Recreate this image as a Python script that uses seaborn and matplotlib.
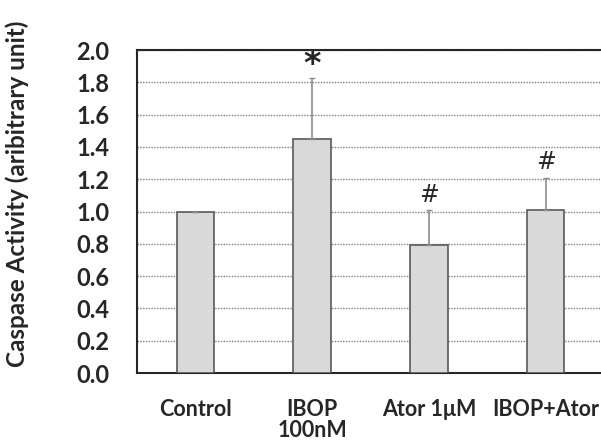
import matplotlib
matplotlib.use("Agg")
import matplotlib.pyplot as plt
import seaborn as sns
import numpy as np

groups = ["Control", "IBOP\n100nM", "Ator 1\u03bcM", "IBOP+Ator"]
activity = [1.00, 1.45, 0.79, 1.01]
sem = [0.00, 0.38, 0.22, 0.20]
marks = ["", "*", "#", "#"]

sns.set_style("white")
plt.rcParams["font.family"] = ["Lato", "DejaVu Sans"]

fig = plt.figure(figsize=(6.01, 4.43), dpi=100)
ax = fig.add_axes([0.228, 0.158, 0.777, 0.729])

sns.barplot(x=groups, y=activity, color="#d9d9d9", edgecolor="#595959",
            linewidth=1.2, width=0.32, ax=ax, zorder=3)
ax.errorbar(np.arange(len(groups)), activity, yerr=[np.zeros(len(sem)), sem],
            fmt="none", ecolor="#8c8c8c", elinewidth=1.2, capsize=2.5, zorder=4)

for i, (v, e, m) in enumerate(zip(activity, sem, marks)):
    if m == "*":
        ax.text(i, v + e - 0.02, m, ha="center", va="bottom", fontsize=24,
                fontweight="bold", family="DejaVu Sans")
    elif m:
        ax.text(i, v + e + 0.02, m, ha="center", va="bottom", fontsize=17,
                family="DejaVu Sans")

ax.set_ylim(0, 2.0)
ax.set_xlim(-0.5, 3.5)
ax.set_yticks(np.arange(0, 2.01, 0.2))
ax.set_yticklabels([f"{t:.1f}" for t in np.arange(0, 2.01, 0.2)])
ax.yaxis.grid(True, linestyle=(0, (1, 1)), color="#7f7f7f", linewidth=1.0, zorder=0)
ax.set_axisbelow(True)

for s in ["left", "bottom", "top"]:
    ax.spines[s].set_color("#262626")
    ax.spines[s].set_linewidth(1.5)
ax.spines["right"].set_visible(False)

ax.tick_params(axis="x", length=0, labelsize=15.5, pad=19)
ax.tick_params(axis="y", length=0, labelsize=17, pad=20)
for lab in ax.get_xticklabels():
    lab.set_fontweight("bold")
    lab.set_linespacing(1.0)
for lab in ax.get_yticklabels():
    lab.set_fontweight("bold")
ax.set_xlabel("")
ax.set_ylabel("Caspase Activity (aribitrary unit)", fontsize=17.5,
              fontweight="bold", va="center")
ax.yaxis.set_label_coords(-0.257, 0.555)

fig.savefig("out.png", dpi=100)
